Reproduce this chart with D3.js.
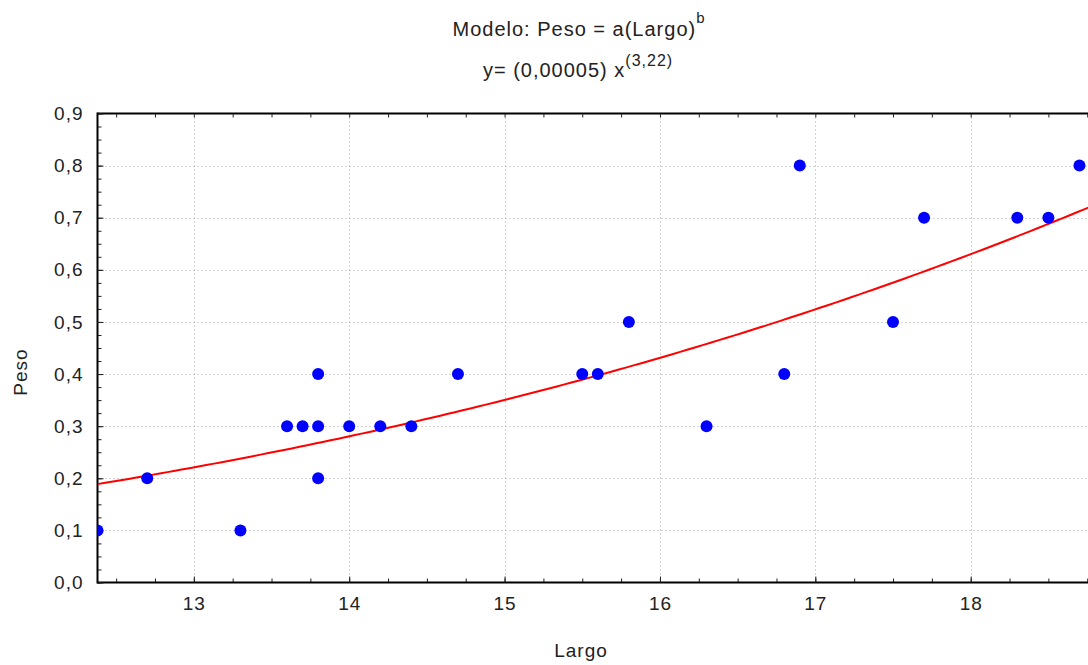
<!doctype html>
<html>
  <head>
    <meta charset="utf-8" />
    <title>Modelo: Peso = a(Largo)^b</title>
    <script type="text/javascript" src="https://cdnjs.cloudflare.com/ajax/libs/d3/7.8.5/d3.min.js"></script>
    <style>
      body { margin:0; background:#fff; font-family:"Liberation Sans", Arial, sans-serif; }
      svg { display:block; }
      svg text { letter-spacing:1px; }
    </style>
  </head>
  <body>
    <div id="chart"></div>
    <script type="text/javascript">

/*observed data: Largo (x) and Peso (y)*/
var largo = [12.38, 12.7, 13.3, 13.6, 13.7, 13.8, 13.8, 13.8, 14.0, 14.2, 14.4, 14.7,
             15.5, 15.6, 15.8, 16.3, 16.8, 16.9, 17.5, 17.7, 18.3, 18.5, 18.7];
var peso  = [0.1, 0.2, 0.1, 0.3, 0.3, 0.3, 0.4, 0.2, 0.3, 0.3, 0.3, 0.4,
             0.4, 0.4, 0.5, 0.3, 0.4, 0.8, 0.5, 0.7, 0.7, 0.7, 0.8];

/*fitted model Peso = a * Largo^b*/
var fit_a = 0.0000572;
var fit_b = 3.22;

var x_ticks = [13, 14, 15, 16, 17, 18];
var y_ticks = [0, 0.1, 0.2, 0.3, 0.4, 0.5, 0.6, 0.7, 0.8, 0.9];

var W = 1088, H = 665;
var m = {left: 97.5, top: 113.5, bottom: 582.5};

var svg = d3.select("#chart").append("svg")
  .attr("width", W).attr("height", H);

var x = d3.scaleLinear().domain([12.38, 18.755]).range([m.left, 1088]);
var y = d3.scaleLinear().domain([0, 0.9]).range([m.bottom, m.top]);

var fmt = function(d) { return d3.format(".1f")(d).replace(".", ","); };

svg.append("defs").append("clipPath").attr("id", "clip")
  .append("rect").attr("x", m.left).attr("y", m.top - 8)
  .attr("width", W - m.left).attr("height", m.bottom - m.top + 16);

/*grid*/
var grid = svg.append("g").attr("stroke", "#a8a8a8").attr("stroke-width", 1)
  .attr("stroke-dasharray", "1,3");
grid.selectAll("line.gx").data(x_ticks).join("line")
  .attr("x1", d => Math.round(x(d)) + 0.5).attr("x2", d => Math.round(x(d)) + 0.5)
  .attr("y1", m.top).attr("y2", m.bottom);
grid.selectAll("line.gy").data(y_ticks.slice(1, -1)).join("line")
  .attr("x1", m.left).attr("x2", W)
  .attr("y1", d => Math.round(y(d)) + 0.5).attr("y2", d => Math.round(y(d)) + 0.5);

/*axes*/
var minor_x = d3.range(12.5, 18.8, 0.25);
var minor_y = d3.range(0, 0.9001, 0.025);

svg.append("g").attr("transform", "translate(0," + m.bottom + ")")
  .call(d3.axisTop(x).tickValues(minor_x).tickSize(4).tickFormat(""))
  .call(g => g.select(".domain").remove());
svg.append("g").attr("transform", "translate(0," + m.bottom + ")")
  .call(d3.axisBottom(x).tickValues(x_ticks).tickSize(-6).tickPadding(14).tickFormat(d3.format("d")))
  .call(g => g.select(".domain").attr("stroke-width", 2).attr("d", "M" + m.left + ",0H" + W))
  .call(g => g.selectAll("text").attr("font-size", 19).attr("fill", "#222")
    .attr("font-family", "Liberation Sans, Arial, sans-serif"));

svg.append("g").attr("transform", "translate(0," + m.top + ")")
  .call(d3.axisBottom(x).tickValues(minor_x).tickSize(4).tickFormat(""))
  .call(g => g.select(".domain").attr("stroke-width", 2).attr("d", "M" + m.left + ",0H" + W));

svg.append("g").attr("transform", "translate(" + m.left + ",0)")
  .call(d3.axisRight(y).tickValues(minor_y).tickSize(4).tickFormat(""))
  .call(g => g.select(".domain").remove());
svg.append("g").attr("transform", "translate(" + m.left + ",0)")
  .call(d3.axisLeft(y).tickValues(y_ticks).tickSize(-6).tickPadding(14).tickFormat(fmt))
  .call(g => g.select(".domain").attr("stroke-width", 2)
    .attr("d", "M0," + (m.top - 1) + "V" + (m.bottom + 1)))
  .call(g => g.selectAll("text").attr("font-size", 19).attr("fill", "#222")
    .attr("font-family", "Liberation Sans, Arial, sans-serif"));

svg.selectAll(".tick line").attr("stroke", "#222");

/*fitted curve*/
var curve_x = d3.range(12.38, 18.8, 0.05);
svg.append("path")
  .attr("clip-path", "url(#clip)")
  .datum(curve_x)
  .attr("fill", "none").attr("stroke", "#ff0000").attr("stroke-width", 2)
  .attr("d", d3.line().x(d => x(d)).y(d => y(fit_a * Math.pow(d, fit_b))));

/*points*/
svg.append("g").attr("clip-path", "url(#clip)")
  .selectAll("circle").data(largo).join("circle")
  .attr("cx", d => x(d)).attr("cy", (d, i) => y(peso[i]))
  .attr("r", 6).attr("fill", "#0000ff");

/*titles*/
var title = svg.append("text").attr("x", 579).attr("y", 36)
  .attr("text-anchor", "middle").attr("font-size", 20).attr("fill", "#222");
title.append("tspan").text("Modelo: Peso = a(Largo)");
title.append("tspan").attr("dy", -13).attr("font-size", 15).text("b");

var sub = svg.append("text").attr("x", 578).attr("y", 77)
  .attr("text-anchor", "middle").attr("font-size", 20).attr("fill", "#222");
sub.append("tspan").text("y= (0,00005) x");
sub.append("tspan").attr("dy", -11).attr("font-size", 16).text("(3,22)");

svg.append("text").attr("x", 581).attr("y", 657)
  .attr("text-anchor", "middle").attr("font-size", 19).attr("letter-spacing", 2)
  .attr("fill", "#222").text("Largo");
svg.append("text").attr("transform", "translate(27,372) rotate(-90)")
  .attr("text-anchor", "middle").attr("font-size", 19).attr("letter-spacing", 2)
  .attr("fill", "#222").text("Peso");

    </script>
  </body>
</html>
